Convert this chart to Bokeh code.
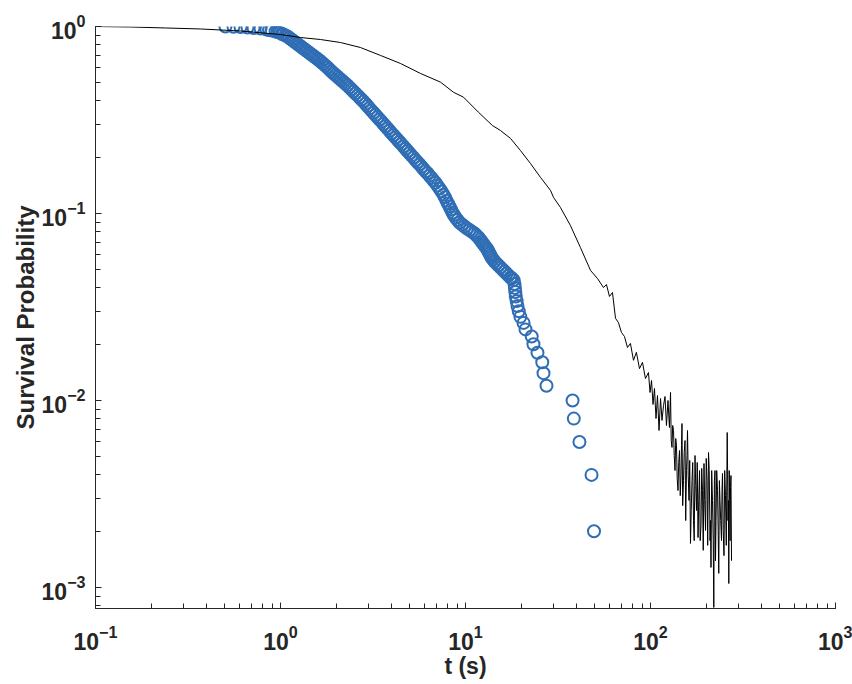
from bokeh.plotting import figure
from bokeh.models import Range1d, LogTicker
from bokeh.embed import file_html
from bokeh.resources import INLINE

# ---- survival curve (black line) ----
line_t = [0.1, 0.155, 0.239, 0.370, 0.608, 1.0, 1.283, 1.645, 2.110, 2.705, 3.474,
          4.456, 5.71, 7.33, 8.61, 9.75, 11.75, 13.98, 15.45, 17.51, 19.83, 22.46,
          25.43, 28.8, 29.9, 32.6, 36.9, 41.8, 47.4,
          51.7, 55.7, 57.8, 60.0, 62.3, 64.7, 67.1, 69.7, 72.3, 75.1, 77.9, 80.9,
          83.9, 87.2, 90.5, 93.9,
          97.5, 99.4, 101.3, 103.2, 105.1, 107.1, 109.1, 111.2, 113.3, 115.4, 117.6,
          119.8, 122.0, 124.3, 126.6, 128.3, 129.4, 130.7, 131.8, 133.2, 134.3, 135.7,
          136.9, 138.2, 139.4, 140.8, 142.1, 143.5, 144.8, 146.2, 147.1, 148.0, 149.3,
          150.8, 152.1, 153.7, 155.0, 156.5, 157.5, 158.5, 159.9, 161.5, 162.9, 164.5,
          166.0, 167.6, 169.1, 170.8, 172.3, 174.0, 175.6, 177.3, 178.9, 180.7, 182.3,
          184.1, 185.6, 187.5, 189.2, 191.0, 192.8, 194.6, 196.3, 198.4, 200.1, 202.1,
          203.8, 205.9, 207.7, 209.8, 211.0, 212.3, 214.2, 216.3, 218.3, 219.9, 221.5,
          223.2, 224.6, 226.0, 228.0, 230.3, 232.2, 233.9, 235.7, 237.5, 239.6, 242.0,
          243.5, 245.0, 247.2, 249.6, 251.8, 254.3, 256.8, 259.8, 261.1, 262.4, 263.7,
          265.0, 266.3, 268.0, 269.3, 270.7, 272.3, 274.1]
line_s = [1.0, 0.994, 0.982, 0.970, 0.946, 0.906, 0.873, 0.852, 0.821, 0.772, 0.700,
          0.634, 0.561, 0.504, 0.445, 0.419, 0.348, 0.2955, 0.278, 0.252, 0.217, 0.185,
          0.156, 0.133, 0.122, 0.1077, 0.0863, 0.0658, 0.0496,
          0.0449, 0.0402, 0.0417, 0.0360, 0.0378, 0.0275, 0.0261, 0.0231, 0.0220,
          0.0192, 0.0202, 0.0164, 0.0181, 0.0148, 0.0160, 0.0131,
          0.01411, 0.01104, 0.01279, 0.00952, 0.01159, 0.00801, 0.01063, 0.00691,
          0.01025, 0.00782, 0.00940, 0.01050, 0.00735, 0.01000, 0.00717, 0.01104,
          0.00611, 0.00561, 0.00735, 0.00691, 0.00508, 0.00422, 0.00626, 0.00575,
          0.00383, 0.00330, 0.00466, 0.00540, 0.00310, 0.00397, 0.00575, 0.00753,
          0.00274, 0.00373, 0.00527, 0.00611, 0.00228, 0.00422, 0.00508, 0.00691,
          0.00397, 0.00292, 0.00478, 0.00172, 0.00258, 0.00373, 0.00466, 0.00228,
          0.00178, 0.00508, 0.00351, 0.00258, 0.00466, 0.00185, 0.00292, 0.00422,
          0.00178, 0.00215, 0.00433, 0.00330, 0.00158, 0.00460, 0.00292, 0.00202,
          0.00490, 0.00373, 0.00168, 0.00527, 0.00422, 0.00178, 0.00228, 0.00128,
          0.00422, 0.00292, 0.00178, 0.000782, 0.00373, 0.00422, 0.00139, 0.00228,
          0.00422, 0.00330, 0.00202, 0.00119, 0.00373, 0.00292, 0.00228, 0.00178,
          0.00330, 0.00407, 0.00202, 0.00148, 0.00422, 0.00310, 0.00168, 0.00674,
          0.00422, 0.00228, 0.00292, 0.00105, 0.00422, 0.00292, 0.00178, 0.00342,
          0.00397, 0.00139]

# ---- observed survival (blue circles) ----
obs_t = [0.504, 0.557, 0.608, 0.663, 0.715, 0.780, 0.840, 0.867, 0.894, 0.940, 0.963, 0.988,
         1.019, 1.038, 1.064, 1.091, 1.118, 1.147, 1.176, 1.205, 1.236, 1.267, 1.299, 1.331,
         1.365, 1.399, 1.435, 1.471, 1.508, 1.546, 1.585, 1.625, 1.666, 1.708, 1.751, 1.795,
         1.840, 1.887, 1.934, 1.983, 2.033, 2.084, 2.137, 2.191, 2.246, 2.302, 2.360, 2.420,
         2.481, 2.543, 2.608, 2.673, 2.741, 2.809, 2.881, 2.953, 3.028, 3.104, 3.183, 3.262,
         3.345, 3.428, 3.516, 3.604, 3.695, 3.788, 3.884, 3.981, 4.082, 4.184, 4.290, 4.398,
         4.510, 4.623, 4.740, 4.859, 4.982, 5.107, 5.236, 5.368, 5.502, 5.642, 5.784, 5.929,
         6.078, 6.232, 6.389, 6.550, 6.714, 6.884, 7.058, 7.236, 7.420, 7.604, 7.750, 7.893,
         8.041, 8.193, 8.348, 8.505, 8.666, 8.829, 9.053, 9.281, 9.574, 9.876, 10.19, 10.51,
         10.84, 11.19, 11.47, 11.76, 11.98, 12.21, 12.43, 12.67, 12.91, 13.15, 13.31, 13.48,
         13.65, 13.82, 14.08, 14.35, 14.71, 15.08, 15.46, 15.85, 16.25, 16.66, 17.08, 17.51,
         17.84, 18.2, 18.4, 18.5, 18.6, 18.7, 18.9, 19.1, 19.4, 19.8, 20.6, 21.1, 22.8,
         23.3, 24.5, 26.0, 26.4, 27.4, 37.9, 38.5, 41.3, 48.0, 49.5]
obs_s = [1.000, 0.996, 0.993, 0.988, 0.982, 0.976, 0.964, 0.958, 0.952, 0.940, 0.935, 0.929,
         0.912, 0.906, 0.895, 0.884, 0.868, 0.852, 0.837, 0.821, 0.806, 0.791, 0.777, 0.763,
         0.749, 0.735, 0.722, 0.708, 0.695, 0.683, 0.670, 0.658, 0.644, 0.630, 0.617, 0.604,
         0.589, 0.575, 0.562, 0.550, 0.539, 0.527, 0.516, 0.505, 0.494, 0.484, 0.472, 0.460,
         0.449, 0.438, 0.428, 0.417, 0.407, 0.397, 0.386, 0.376, 0.365, 0.355, 0.346, 0.336,
         0.327, 0.318, 0.310, 0.301, 0.293, 0.285, 0.277, 0.269, 0.262, 0.255, 0.248, 0.241,
         0.235, 0.228, 0.222, 0.216, 0.210, 0.204, 0.199, 0.193, 0.188, 0.183, 0.178, 0.173,
         0.168, 0.164, 0.159, 0.155, 0.150, 0.146, 0.141, 0.136, 0.131, 0.126, 0.122, 0.117,
         0.113, 0.109, 0.105, 0.101, 0.0982, 0.0952, 0.0923, 0.0895, 0.0873, 0.0852, 0.0831, 0.0816,
         0.0799, 0.0782, 0.0763, 0.0744, 0.0726, 0.0708, 0.0691, 0.0674, 0.0658, 0.0642, 0.0626, 0.0611,
         0.0596, 0.0582, 0.0568, 0.0554, 0.0540, 0.0527, 0.0514, 0.0502, 0.0490, 0.0478, 0.0466, 0.0455,
         0.045, 0.044, 0.042, 0.040, 0.038, 0.036, 0.034, 0.032, 0.030, 0.028, 0.026, 0.024, 0.022,
         0.020, 0.018, 0.016, 0.014, 0.012, 0.010, 0.008, 0.006, 0.004, 0.002]

x_label = "t (s)"
y_label = "Survival Probability"

p = figure(width=852, height=684, x_axis_type="log", y_axis_type="log",
           x_range=Range1d(0.1, 1000), y_range=Range1d(0.000772, 1.0),
           output_backend="svg", toolbar_location=None,
           min_border_left=95, min_border_right=17, min_border_top=26, min_border_bottom=76)
p.outline_line_color = None
p.xgrid.visible = False
p.ygrid.visible = False
p.background_fill_color = "white"
p.border_fill_color = "white"

blue = "#2F6DB5"
p.scatter(obs_t, obs_s, marker="circle", size=12, fill_color=None,
          line_color=blue, line_width=2)
p.line(line_t, line_s, line_color="black", line_width=1)

axcol = "#262626"
for ax in (p.xaxis[0], p.yaxis[0]):
    ax.ticker = LogTicker(num_minor_ticks=10)
    ax.axis_line_color = axcol
    ax.major_tick_line_color = axcol
    ax.minor_tick_line_color = axcol
    ax.major_tick_in = 6
    ax.major_tick_out = 0
    ax.minor_tick_in = 5
    ax.minor_tick_out = 0
    ax.major_label_text_font = "Liberation Sans"
    ax.major_label_text_font_style = "bold"
    ax.major_label_text_font_size = "23px"
    ax.major_label_text_color = axcol
    ax.axis_label_text_font = "Liberation Sans"
    ax.axis_label_text_font_style = "bold"
    ax.axis_label_text_color = axcol

p.xaxis.major_label_standoff = 16
p.yaxis.major_label_standoff = 10
p.xaxis.axis_label = x_label
p.yaxis.axis_label = y_label
p.xaxis.axis_label_text_font_size = "23px"
p.yaxis.axis_label_text_font_size = "24px"
p.xaxis.axis_label_standoff = 0
p.yaxis.axis_label_standoff = 0

open("out.html", "w").write(file_html(p, INLINE))
